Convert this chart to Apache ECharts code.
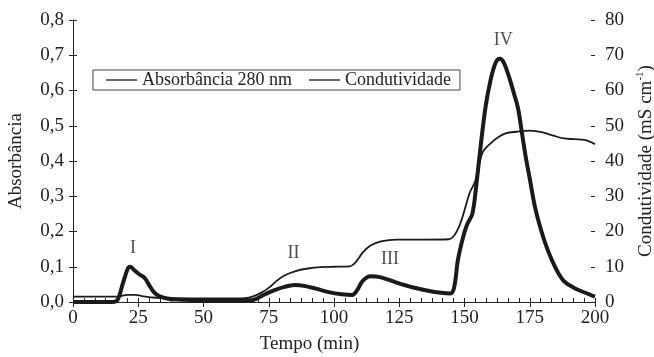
<!DOCTYPE html>
<html>
<head>
<meta charset="utf-8">
<script src="https://cdn.jsdelivr.net/npm/echarts@6/dist/echarts.min.js"></script>
<style>
  html, body { margin: 0; padding: 0; background: #fff; }
  #chart { width: 654px; height: 357px; }
</style>
</head>
<body>
<div id="chart"></div>
<script>
// absorbance at 280 nm (left axis)
const absTime = [0, 15, 17, 19, 21, 22, 23.5, 25.5, 27.5, 29, 31, 33, 36, 40, 50, 60, 68, 70, 73, 77, 81, 85, 89, 93, 98, 103, 107, 109, 111, 114, 118, 124, 130, 136, 141, 144.5, 146, 147.5, 149.5, 151, 153, 154.5, 156, 158, 160, 162, 163.5, 165, 167, 169, 170.5, 172, 173.5, 175, 177, 179.5, 182, 185, 188, 192, 196, 200];
const absValue = [0, 0, 0.005, 0.05, 0.095, 0.1, 0.09, 0.078, 0.068, 0.05, 0.028, 0.017, 0.01, 0.007, 0.005, 0.005, 0.005, 0.008, 0.02, 0.033, 0.043, 0.048, 0.045, 0.038, 0.028, 0.022, 0.02, 0.035, 0.06, 0.073, 0.07, 0.055, 0.042, 0.032, 0.026, 0.024, 0.04, 0.12, 0.185, 0.22, 0.25, 0.33, 0.43, 0.55, 0.63, 0.68, 0.69, 0.68, 0.64, 0.59, 0.55, 0.48, 0.41, 0.35, 0.27, 0.2, 0.145, 0.095, 0.06, 0.04, 0.027, 0.015];

// conductivity in mS/cm (right axis)
const condTime = [0, 17, 19, 21, 24, 27, 32, 40, 60, 66, 69, 72, 75, 78, 81, 85, 90, 95, 100, 106, 108, 111, 114, 118, 124, 135, 144, 146, 148, 150, 152, 154, 155, 157, 160, 163, 166, 170, 175, 180, 184, 188, 192, 196, 200];
const condValue = [1.5, 1.5, 1.8, 2, 2, 1.6, 1.2, 1, 1, 1.1, 1.6, 2.6, 4, 6, 7.5, 8.7, 9.5, 9.9, 10, 10.1, 11, 14, 16, 17.2, 17.7, 17.7, 17.8, 18.8, 21.5, 26, 31, 34, 37, 42.5, 45, 46.8, 47.9, 48.3, 48.6, 48.1, 47.2, 46.4, 46.2, 46, 44.8];

// peak names, placed in data units of the absorbance axis
const peakNames = ['I', 'II', 'III', 'IV'];
const peakTime = [23, 84.5, 121.5, 164.8];
const peakAbs = [0.153, 0.139, 0.122, 0.743];

const seriesNames = ['Absorbância 280 nm', 'Condutividade'];

const font = 'Liberation Serif, Times New Roman, serif';
const ink = '#222';

const chart = echarts.init(document.getElementById('chart'), null, {renderer: 'canvas'});

const pairs = (xs, ys) => xs.map((x, i) => [x, ys[i]]);

const option = {
  backgroundColor: '#fff',
  animation: false,
  textStyle: {fontFamily: font, color: ink},
  grid: {left: 73, right: 59, top: 20, bottom: 55, outerBoundsMode: 'none'},
  legend: {
    data: seriesNames,
    left: 93,
    top: 70,
    padding: [1, 9, 1, 13],
    icon: 'rect',
    itemWidth: 31,
    itemHeight: 1.3,
    itemGap: 17,
    borderColor: '#444',
    borderWidth: 1,
    textStyle: {fontFamily: font, fontSize: 18, color: ink},
  },
  xAxis: [
    {
      type: 'value',
      min: 0,
      max: 200,
      interval: 25,
      name: 'Tempo (min)',
      nameLocation: 'middle',
      nameGap: 33,
      nameTextStyle: {fontFamily: font, fontSize: 19, color: ink, padding: [0, 49, 0, 0]},
      axisLine: {lineStyle: {color: ink, width: 1}},
      axisTick: {length: 5, lineStyle: {color: ink}},
      axisLabel: {fontFamily: font, fontSize: 19, color: ink, margin: 7},
      splitLine: {show: false},
    },
    {
      // overlay: inside ticks with the small divisions
      type: 'value',
      min: 0,
      max: 200,
      interval: 25,
      position: 'bottom',
      axisLine: {show: false},
      axisTick: {inside: true, length: 4, lineStyle: {color: ink}},
      minorTick: {show: true, splitNumber: 6, length: 4, lineStyle: {color: ink}},
      axisLabel: {show: false},
      splitLine: {show: false},
    },
  ],
  yAxis: [
    {
      type: 'value',
      min: 0,
      max: 0.8,
      interval: 0.1,
      position: 'left',
      name: 'Absorbância',
      nameLocation: 'middle',
      nameGap: 47,
      nameTextStyle: {fontFamily: font, fontSize: 19, color: ink},
      axisLine: {show: true, lineStyle: {color: ink, width: 1}},
      axisTick: {show: true, length: 4, lineStyle: {color: ink}},
      axisLabel: {
        fontFamily: font, fontSize: 19, color: ink, margin: 9,
        formatter: v => v.toFixed(1).replace('.', ','),
      },
      splitLine: {show: false},
    },
    {
      type: 'value',
      min: 0,
      max: 80,
      interval: 10,
      position: 'right',
      name: '{t|Condutividade (mS cm}{s|-1}{t|)}',
      nameLocation: 'middle',
      nameGap: 38,
      nameTextStyle: {
        fontFamily: font, fontSize: 19, color: ink,
        rich: {
          t: {fontFamily: font, fontSize: 19, color: ink, lineHeight: 22},
          s: {fontFamily: font, fontSize: 11, color: ink, lineHeight: 22, verticalAlign: 'top'},
        },
      },
      axisLine: {show: true, lineStyle: {color: ink, width: 1}},
      axisTick: {show: true, length: 4, lineStyle: {color: ink}},
      axisLabel: {fontFamily: font, fontSize: 19, color: ink, margin: 10},
      splitLine: {show: false},
    },
    {
      // overlay so the left ticks cross the axis
      type: 'value', min: 0, max: 0.8, interval: 0.1, position: 'left',
      axisLine: {show: false},
      axisTick: {show: true, inside: true, length: 4, lineStyle: {color: ink}},
      axisLabel: {show: false},
      splitLine: {show: false},
    },
    {
      type: 'value', min: 0, max: 80, interval: 10, position: 'right',
      axisLine: {show: false},
      axisTick: {show: true, inside: true, length: 4, lineStyle: {color: ink}},
      axisLabel: {show: false},
      splitLine: {show: false},
    },
  ],
  series: [
    {
      name: seriesNames[0],
      type: 'line',
      yAxisIndex: 0,
      data: pairs(absTime, absValue),
      smooth: 0.35,
      showSymbol: false,
      symbol: 'none',
      lineStyle: {color: '#1a1a1a', width: 4},
      itemStyle: {color: '#1a1a1a'},
      z: 3,
    },
    {
      name: seriesNames[1],
      type: 'line',
      yAxisIndex: 1,
      data: pairs(condTime, condValue),
      smooth: 0.35,
      showSymbol: false,
      symbol: 'none',
      lineStyle: {color: '#1a1a1a', width: 1.8},
      itemStyle: {color: '#1a1a1a'},
      z: 2,
    },
    {
      name: 'peaks',
      type: 'scatter',
      yAxisIndex: 0,
      symbolSize: 0,
      silent: true,
      data: peakNames.map((n, i) => ({name: n, value: [peakTime[i], peakAbs[i]]})),
      label: {
        show: true,
        position: 'inside',
        formatter: p => p.name,
        fontFamily: font,
        fontSize: 18,
        color: ink,
      },
    },
  ],
};

chart.setOption(option);
</script>
</body>
</html>
